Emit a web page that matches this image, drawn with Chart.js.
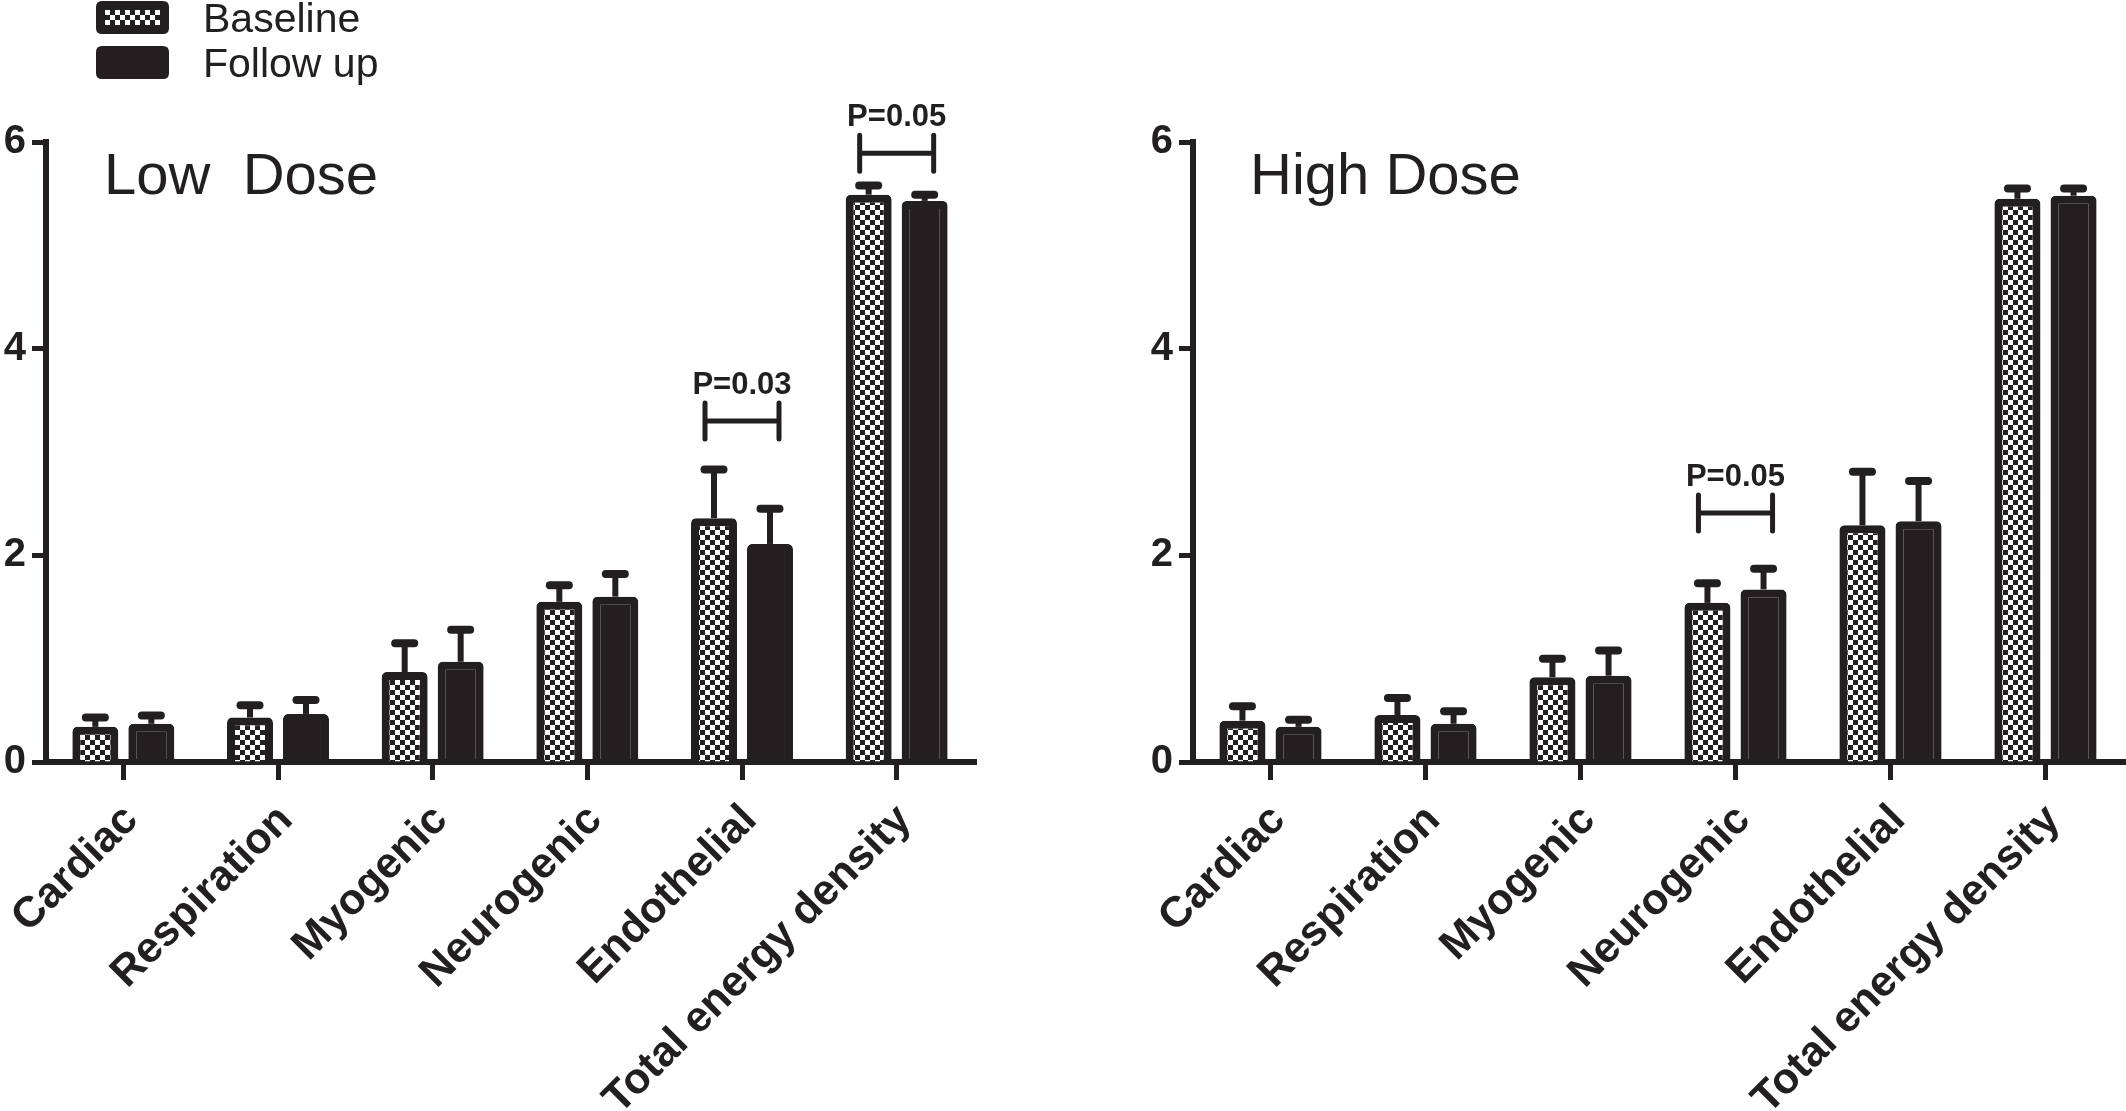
<!DOCTYPE html>
<html>
<head>
<meta charset="utf-8">
<script src="https://cdn.jsdelivr.net/npm/chart.js@4.4.1/dist/chart.umd.min.js"></script>
<style>
html,body{margin:0;padding:0;background:#fff;width:2126px;height:1111px;overflow:hidden}
canvas{position:absolute;top:0}
#c1{left:0}
#c2{left:1063px}
</style>
</head>
<body>
<canvas id="c1" width="1063" height="1111"></canvas>
<canvas id="c2" width="1063" height="1111"></canvas>
<script>
// ---------- data ----------
const categories = ['Cardiac', 'Respiration', 'Myogenic', 'Neurogenic', 'Endothelial', 'Total energy density'];
const seriesNames = ['Baseline', 'Follow up'];
const yTickValues = [0, 2, 4, 6];
const panelTitles = ['Low  Dose', 'High Dose'];

const lowBaseline     = [0.34, 0.43, 0.87, 1.55, 2.36, 5.49];
const lowBaselineErr  = [0.09, 0.12, 0.28, 0.16, 0.47, 0.09];
const lowFollowUp     = [0.37, 0.465, 0.97, 1.60, 2.11, 5.43];
const lowFollowUpErr  = [0.08, 0.135, 0.31, 0.22, 0.34, 0.06];

const highBaseline    = [0.40, 0.455, 0.82, 1.54, 2.29, 5.45];
const highBaselineErr = [0.14, 0.165, 0.18, 0.19, 0.52, 0.10];
const highFollowUp    = [0.34, 0.37, 0.835, 1.67, 2.33, 5.48];
const highFollowUpErr = [0.07, 0.12, 0.245, 0.20, 0.39, 0.07];

// significance brackets: category index, label, level (axis units)
const lowPIndex  = [4, 5];
const lowPLabel  = ['P=0.03', 'P=0.05'];
const lowPLevel  = [3.30, 5.89];
const highPIndex = [3];
const highPLabel = ['P=0.05'];
const highPLevel = [2.41];

// ---------- style ----------
const INK = '#231f20';
const FONT = '"Liberation Sans", Arial, Helvetica, sans-serif';

function makeChecker(ctx) {
  const t = document.createElement('canvas');
  t.width = 10; t.height = 10;
  const x = t.getContext('2d');
  x.fillStyle = '#ffffff'; x.fillRect(0, 0, 10, 10);
  x.fillStyle = INK; x.fillRect(0, 0, 5, 5); x.fillRect(5, 5, 5, 5);
  return ctx.createPattern(t, 'repeat');
}

const errorBarPlugin = {
  id: 'errorBars',
  afterDatasetsDraw(chart) {
    const ctx = chart.ctx;
    const ys = chart.scales.y;
    ctx.save();
    ctx.strokeStyle = INK;
    chart.data.datasets.forEach((ds, di) => {
      const meta = chart.getDatasetMeta(di);
      meta.data.forEach((bar, i) => {
        const top = ys.getPixelForValue(ds.data[i] + ds.errors[i]);
        ctx.lineCap = 'butt';
        ctx.lineWidth = 6;
        ctx.beginPath(); ctx.moveTo(bar.x, bar.y); ctx.lineTo(bar.x, top); ctx.stroke();
        ctx.lineCap = 'round';
        ctx.lineWidth = 8;
        ctx.beginPath(); ctx.moveTo(bar.x - 9.5, top); ctx.lineTo(bar.x + 9.5, top); ctx.stroke();
      });
    });
    ctx.restore();
  }
};

const bracketPlugin = {
  id: 'brackets',
  afterDraw(chart, args, opts) {
    const ctx = chart.ctx;
    const ys = chart.scales.y;
    const m0 = chart.getDatasetMeta(0), m1 = chart.getDatasetMeta(1);
    ctx.save();
    ctx.strokeStyle = INK; ctx.fillStyle = INK;
    opts.index.forEach((ci, k) => {
      const x1 = m0.data[ci].x - 9, x2 = m1.data[ci].x + 9;
      const y = ys.getPixelForValue(opts.level[k]);
      ctx.lineWidth = 5; ctx.lineCap = 'round';
      ctx.beginPath();
      ctx.moveTo(x1, y - 18); ctx.lineTo(x1, y + 18);
      ctx.moveTo(x2, y - 18); ctx.lineTo(x2, y + 18);
      ctx.stroke();
      ctx.lineCap = 'butt';
      ctx.beginPath(); ctx.moveTo(x1, y); ctx.lineTo(x2, y); ctx.stroke();
      ctx.font = 'bold 31px ' + FONT;
      ctx.textAlign = 'center'; ctx.textBaseline = 'alphabetic';
      ctx.fillText(opts.label[k], (x1 + x2) / 2, y - 27);
    });
    ctx.restore();
  }
};

const titlePlugin = {
  id: 'panelTitle',
  afterDraw(chart, args, opts) {
    const ctx = chart.ctx;
    ctx.save();
    ctx.fillStyle = INK;
    ctx.font = '58px ' + FONT;
    ctx.textAlign = 'left'; ctx.textBaseline = 'alphabetic';
    ctx.fillText(opts.text, chart.chartArea.left + opts.dx, 194);
    ctx.restore();
  }
};

function roundRect(ctx, x, y, w, h, r) {
  ctx.beginPath();
  ctx.moveTo(x + r, y);
  ctx.lineTo(x + w - r, y); ctx.quadraticCurveTo(x + w, y, x + w, y + r);
  ctx.lineTo(x + w, y + h - r); ctx.quadraticCurveTo(x + w, y + h, x + w - r, y + h);
  ctx.lineTo(x + r, y + h); ctx.quadraticCurveTo(x, y + h, x, y + h - r);
  ctx.lineTo(x, y + r); ctx.quadraticCurveTo(x, y, x + r, y);
  ctx.closePath();
}

const legendPlugin = {
  id: 'boxLegend',
  afterDraw(chart, args, opts) {
    if (!opts.show) return;
    const ctx = chart.ctx;
    ctx.save();
    chart.data.datasets.forEach((ds, i) => {
      const y = 1 + i * 45;
      ctx.fillStyle = INK;
      roundRect(ctx, 96, y, 73, 33, 6); ctx.fill();
      if (ds.backgroundColor !== INK) {
        ctx.fillStyle = ds.backgroundColor;
        ctx.fillRect(105, y + 9, 55, 15);
      }
      ctx.fillStyle = INK;
      ctx.font = '41px ' + FONT;
      ctx.textAlign = 'left'; ctx.textBaseline = 'alphabetic';
      ctx.fillText(ds.label, 203, y + 31);
    });
    ctx.restore();
  }
};

function makeChart(id, b, bErr, f, fErr, title, titleDx, pIdx, pLab, pLev, padL, padR, showLegend) {
  const canvas = document.getElementById(id);
  const ctx = canvas.getContext('2d');
  const pattern = makeChecker(ctx);
  return new Chart(ctx, {
    type: 'bar',
    data: {
      labels: categories,
      datasets: [
        { label: seriesNames[0], data: b, errors: bErr, backgroundColor: pattern, borderColor: INK,
          borderWidth: 8, borderRadius: { topLeft: 5, topRight: 5, bottomLeft: 0, bottomRight: 0 } },
        { label: seriesNames[1], data: f, errors: fErr, backgroundColor: INK, borderColor: INK,
          borderWidth: 8, borderRadius: { topLeft: 5, topRight: 5, bottomLeft: 0, bottomRight: 0 } }
      ]
    },
    options: {
      responsive: false,
      animation: false,
      devicePixelRatio: 1,
      layout: { padding: { left: padL, right: padR, top: 142, bottom: 0 } },
      datasets: { bar: { categoryPercentage: 0.724, barPercentage: 0.821 } },
      plugins: {
        legend: { display: false },
        tooltip: { enabled: false },
        title: { display: false },
        brackets: { index: pIdx, label: pLab, level: pLev },
        panelTitle: { text: title, dx: titleDx },
        boxLegend: { show: showLegend }
      },
      scales: {
        x: {
          type: 'category',
          offset: true,
          z: 1,
          grid: { offset: false, drawOnChartArea: false, drawTicks: true, tickLength: 18, lineWidth: 5, tickWidth: 5, tickColor: INK, color: INK },
          border: { display: true, color: INK, width: 6 },
          ticks: { color: INK, font: { family: FONT, size: 43, weight: 'bold' }, maxRotation: 45, minRotation: 45, autoSkip: false, padding: 15, labelOffset: 8 },
          afterFit(s) { s.height = 349; s.paddingLeft = 0; s.paddingRight = 0; }
        },
        y: {
          min: 0, max: 6,
          z: 1,
          afterBuildTicks(s) { s.ticks = yTickValues.map(v => ({ value: v })); },
          grid: { drawOnChartArea: false, drawTicks: true, tickLength: 14, tickWidth: 5, tickColor: INK, color: INK },
          border: { display: true, color: INK, width: 6 },
          ticks: { color: INK, font: { family: FONT, size: 40, weight: 'bold' }, padding: 6 },
          afterFit(s) { s.width = 46; s.paddingTop = 0; s.paddingBottom = 0; }
        }
      }
    },
    plugins: [errorBarPlugin, bracketPlugin, titlePlugin, legendPlugin]
  });
}

makeChart('c1', lowBaseline, lowBaselineErr, lowFollowUp, lowFollowUpErr, panelTitles[0], 58,
          lowPIndex, lowPLabel, lowPLevel, 0, 89, true);
makeChart('c2', highBaseline, highBaselineErr, highFollowUp, highFollowUpErr, panelTitles[1], 57,
          highPIndex, highPLabel, highPLevel, 84, 3, false);
</script>
</body>
</html>
